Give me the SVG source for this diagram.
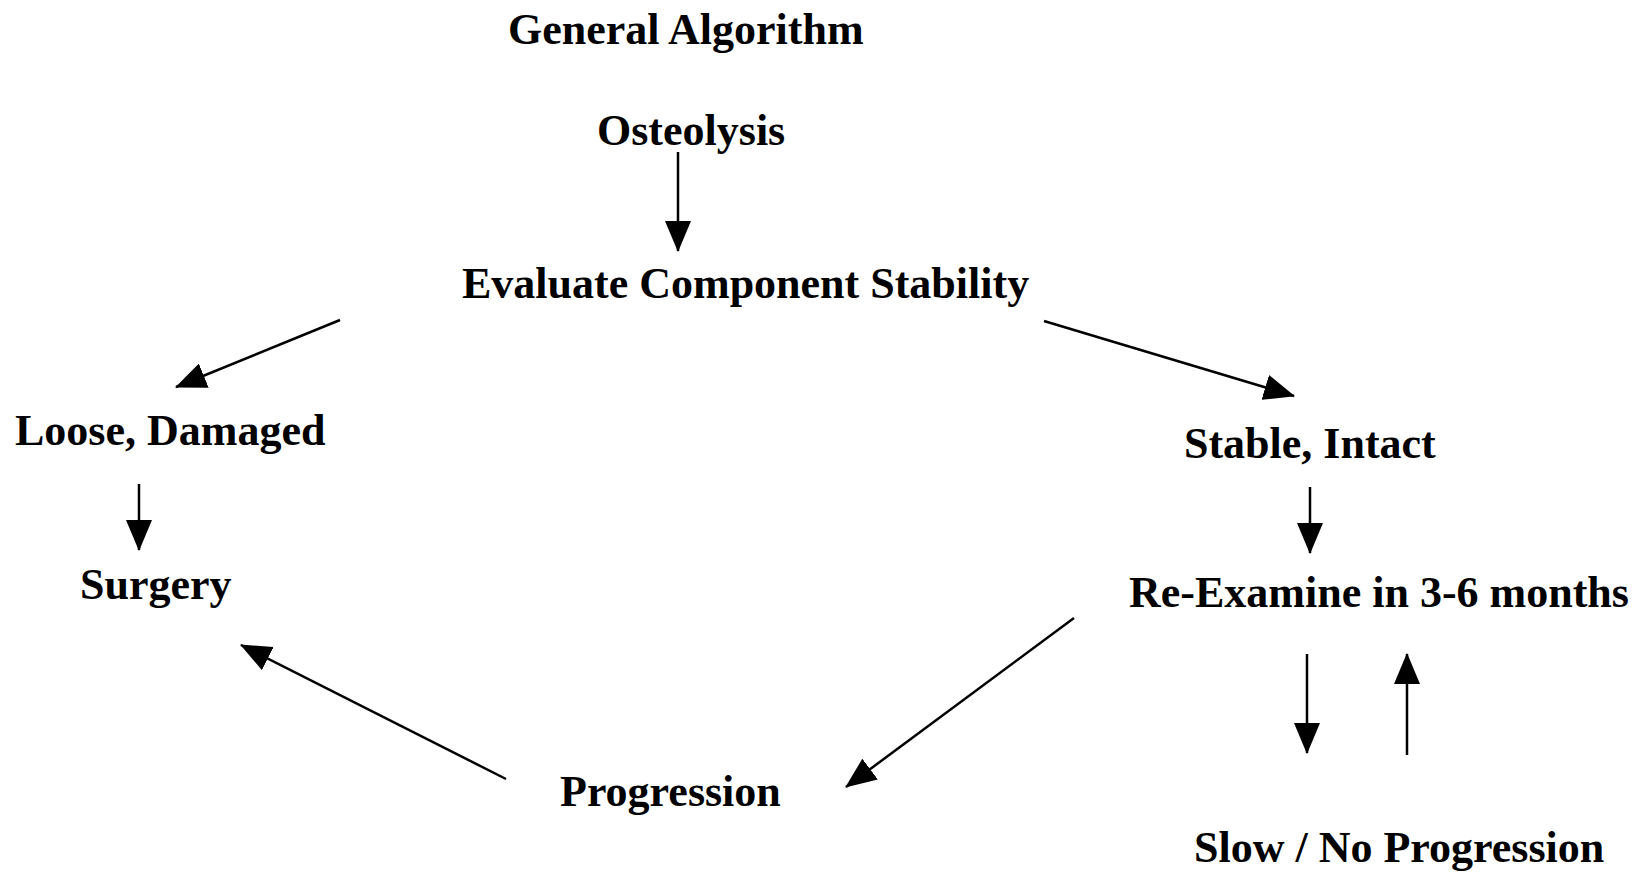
<svg xmlns="http://www.w3.org/2000/svg" width="1642" height="873" viewBox="0 0 1642 873">
  <style>
    .lbl { font-family: "Liberation Serif", "Times New Roman", serif; font-weight: bold; font-size: 44px; fill: #000; }
    .edge { stroke: #000; stroke-width: 2.5; fill: none; marker-end: url(#head); }
  </style>
  <defs>
    <marker id="head" markerUnits="userSpaceOnUse" markerWidth="31" markerHeight="26" refX="30" refY="13" orient="auto">
      <path d="M0,0 L31,13 L0,26 Z" fill="#000"/>
    </marker>
  </defs>
  <rect width="1642" height="873" fill="#fff"/>

  <g id="title"><text class="lbl" x="508" y="44">General Algorithm</text></g>
  <g id="osteolysis"><text class="lbl" x="597" y="145">Osteolysis</text></g>
  <g id="evaluate"><text class="lbl" x="462" y="298">Evaluate Component Stability</text></g>
  <g id="loose"><text class="lbl" x="15" y="445">Loose, Damaged</text></g>
  <g id="surgery"><text class="lbl" x="80" y="599">Surgery</text></g>
  <g id="stable"><text class="lbl" x="1184" y="458">Stable, Intact</text></g>
  <g id="reexamine"><text class="lbl" x="1129" y="607">Re-Examine in 3-6 months</text></g>
  <g id="progression"><text class="lbl" x="560" y="806">Progression</text></g>
  <g id="slow"><text class="lbl" x="1194" y="862">Slow / No Progression</text></g>

  <g id="connectors">
    <line class="edge" x1="678" y1="152" x2="678" y2="251"/>
    <line class="edge" x1="340" y1="320" x2="176" y2="387"/>
    <line class="edge" x1="1044" y1="321" x2="1294" y2="396"/>
    <line class="edge" x1="139" y1="484" x2="139" y2="550"/>
    <line class="edge" x1="1310" y1="487" x2="1310" y2="553"/>
    <line class="edge" x1="506" y1="779" x2="241" y2="645"/>
    <line class="edge" x1="1074" y1="618" x2="846" y2="787"/>
    <line class="edge" x1="1307" y1="654" x2="1307" y2="753"/>
    <line class="edge" x1="1407" y1="755" x2="1407" y2="654"/>
  </g>
</svg>
